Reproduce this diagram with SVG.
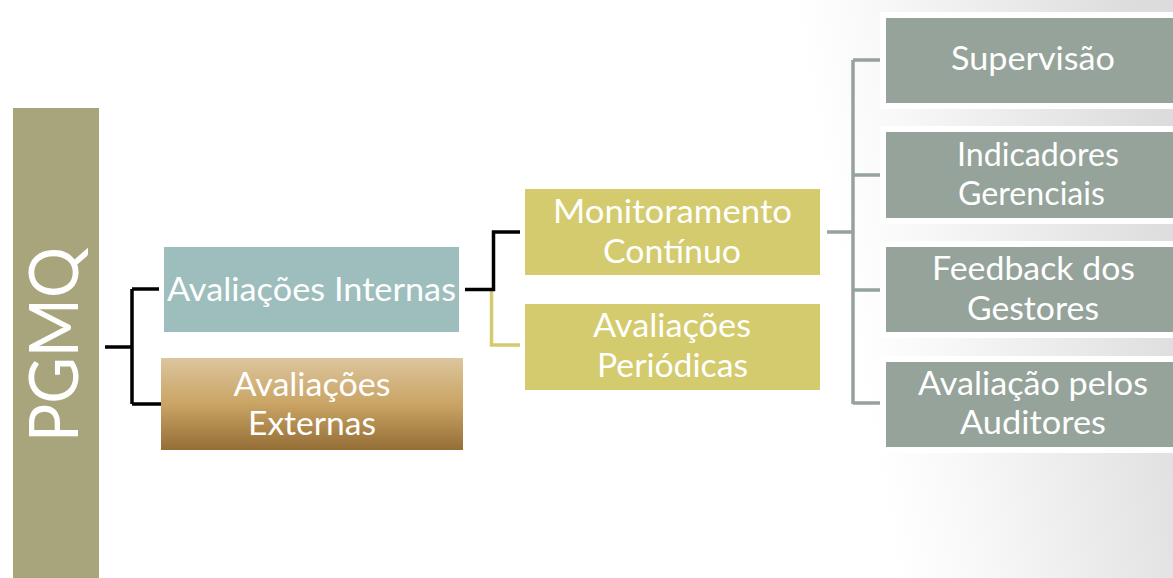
<svg xmlns="http://www.w3.org/2000/svg" width="1173" height="578" viewBox="0 0 1173 578">
<defs>
<linearGradient id="bg" gradientUnits="userSpaceOnUse" x1="840" y1="260" x2="1173" y2="200">
<stop offset="0" stop-color="#ffffff"/>
<stop offset="0.25" stop-color="#f8f8f8"/>
<stop offset="1" stop-color="#dcdcdc"/>
</linearGradient>
<linearGradient id="ext" x1="0" y1="0" x2="0" y2="1">
<stop offset="0" stop-color="#ddc59e"/>
<stop offset="0.5" stop-color="#c9a464"/>
<stop offset="1" stop-color="#946e36"/>
</linearGradient>
<style>
.t{font-family:Lato,"Open Sans","Noto Sans",sans-serif;font-size:33px;fill:#ffffff;text-anchor:middle}
.g{fill:#95a39a;stroke:#ffffff;stroke-width:12;paint-order:stroke}
.c{fill:none;stroke-width:3.5;stroke-linejoin:miter;stroke-linecap:butt}
</style>
</defs>
<rect x="0" y="0" width="1173" height="578" fill="#ffffff"/>
<rect x="700" y="0" width="473" height="578" fill="url(#bg)"/>

<g id="connectors">
<path class="c" stroke="#000000" d="M105,347 H132 M132,289 V404 M132,289 H159 M132,404 H161"/>
<path class="c" stroke="#d3cb6d" d="M491.5,289.5 V345 H520"/>
<path class="c" stroke="#000000" d="M465,289.5 H493.5 V232 H520"/>
<path class="c" stroke="#95a39a" stroke-width="4.5" d="M827,232 H853 M853,60 V404 M853,60 H880 M853,175 H880 M853,290 H880 M853,403 H880"/>
</g>

<g id="pgmq">
<rect x="13" y="108" width="86" height="470" fill="#a8a47b"/>
<text class="t" transform="translate(77.5,442) rotate(-90)" style="font-size:67px;text-anchor:start" textLength="195" lengthAdjust="spacingAndGlyphs">PGMQ</text>
</g>

<g id="avaliacoes-internas">
<rect x="164" y="247" width="295" height="85" fill="#9dbebc"/>
<text class="t" x="311.5" y="301" textLength="289" lengthAdjust="spacingAndGlyphs">Avaliações Internas</text>
</g>

<g id="avaliacoes-externas">
<rect x="161" y="358" width="302" height="92" fill="url(#ext)"/>
<text class="t" x="312" y="396" textLength="157" lengthAdjust="spacingAndGlyphs">Avaliações</text>
<text class="t" x="312" y="435" textLength="128" lengthAdjust="spacingAndGlyphs">Externas</text>
</g>

<g id="monitoramento-continuo">
<rect x="525" y="189" width="295" height="86" fill="#d3cb6d"/>
<text class="t" x="672.5" y="223" textLength="239" lengthAdjust="spacingAndGlyphs">Monitoramento</text>
<text class="t" x="672" y="263" textLength="138" lengthAdjust="spacingAndGlyphs">Contínuo</text>
</g>

<g id="avaliacoes-periodicas">
<rect x="525" y="304" width="295" height="86" fill="#d3cb6d"/>
<text class="t" x="672" y="337" textLength="158" lengthAdjust="spacingAndGlyphs">Avaliações</text>
<text class="t" x="672.5" y="377" textLength="151" lengthAdjust="spacingAndGlyphs">Periódicas</text>
</g>

<g id="supervisao">
<rect class="g" x="886" y="18" width="300" height="85"/>
<text class="t" x="1033" y="70" textLength="164" lengthAdjust="spacingAndGlyphs">Supervisão</text>
</g>

<g id="indicadores-gerenciais">
<rect class="g" x="886" y="132" width="300" height="86"/>
<text class="t" x="1038" y="166" textLength="162" lengthAdjust="spacingAndGlyphs">Indicadores</text>
<text class="t" x="1031.5" y="205" textLength="147" lengthAdjust="spacingAndGlyphs">Gerenciais</text>
</g>

<g id="feedback-gestores">
<rect class="g" x="886" y="247" width="300" height="85"/>
<text class="t" x="1033.5" y="280" textLength="203" lengthAdjust="spacingAndGlyphs">Feedback dos</text>
<text class="t" x="1033" y="320" textLength="132" lengthAdjust="spacingAndGlyphs">Gestores</text>
</g>

<g id="avaliacao-auditores">
<rect class="g" x="886" y="362" width="300" height="85"/>
<text class="t" x="1033" y="395" textLength="230" lengthAdjust="spacingAndGlyphs">Avaliação pelos</text>
<text class="t" x="1033" y="434" textLength="146" lengthAdjust="spacingAndGlyphs">Auditores</text>
</g>
</svg>
